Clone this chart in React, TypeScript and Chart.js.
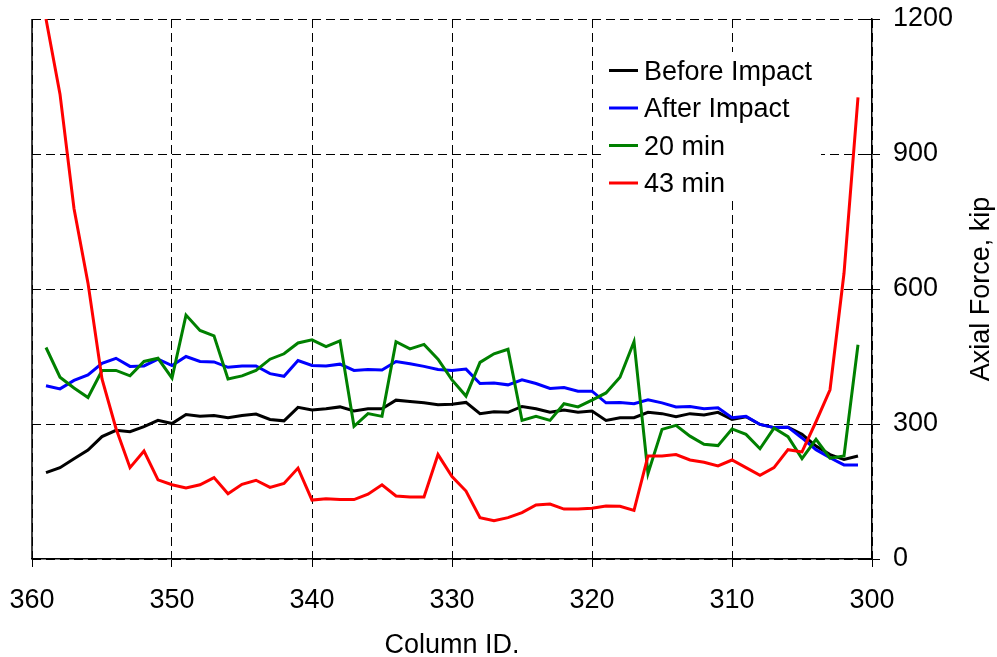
import React, { useEffect, useRef } from "react";
import { Chart, registerables } from "chart.js";

Chart.register(...registerables);

const columnIds = [
  359, 358, 357, 356, 355, 354, 353, 352, 351, 350,
  349, 348, 347, 346, 345, 344, 343, 342, 341, 340,
  339, 338, 337, 336, 335, 334, 333, 332, 331, 330,
  329, 328, 327, 326, 325, 324, 323, 322, 321, 320,
  319, 318, 317, 316, 315, 314, 313, 312, 311, 310,
  309, 308, 307, 306, 305, 304, 303, 302, 301,
];

const beforeImpact = [
  192, 203, 223, 242, 272, 286, 283, 294, 308, 301,
  321, 317, 319, 314, 319, 322, 310, 307, 337, 331,
  334, 338, 329, 334, 334, 353, 350, 347, 343, 344,
  348, 323, 327, 326, 339, 334, 326, 331, 326, 329,
  308, 314, 314, 326, 323, 316, 323, 320, 326, 310,
  316, 299, 292, 293, 277, 251, 232, 221, 229,
];

const afterImpact = [
  385, 378, 397, 409, 435, 446, 428, 429, 444, 430,
  450, 439, 438, 426, 429, 429, 412, 406, 441, 430,
  429, 433, 419, 421, 420, 439, 434, 428, 421, 419,
  422, 390, 391, 387, 398, 390, 379, 381, 373, 373,
  347, 348, 345, 354, 347, 338, 339, 334, 336, 314,
  317, 299, 292, 293, 269, 243, 225, 209, 209,
];

const min20 = [
  470, 404, 380, 359, 419, 419, 407, 439, 446, 402,
  542, 508, 496, 400, 407, 419, 444, 456, 480, 487,
  472, 485, 295, 323, 317, 483, 467, 477, 444, 398,
  362, 437, 456, 466, 308, 317, 308, 345, 338, 353,
  369, 404, 483, 190, 288, 297, 273, 255, 252, 289,
  277, 245, 291, 272, 223, 266, 224, 229, 476,
];

const min43 = [
  1200, 1033, 779, 613, 400, 290, 203, 240, 176, 165,
  158, 165, 181, 145, 166, 175, 159, 168, 202, 131,
  134, 132, 132, 144, 165, 140, 138, 138, 232, 183,
  151, 92, 85, 92, 103, 120, 122, 111, 111, 113,
  118, 117, 108, 229, 229, 232, 220, 215, 207, 220,
  203, 186, 203, 243, 238, 305, 376, 635, 1026,
];

const xTickValues = [360, 350, 340, 330, 320, 310, 300];
const yTickValues = [0, 300, 600, 900, 1200];

const seriesNames = ["Before Impact", "After Impact", "20 min", "43 min"];
const seriesColors = ["#000000", "#0000ff", "#008000", "#ff0000"];
const seriesValues = [beforeImpact, afterImpact, min20, min43];

const xTitle = "Column ID.";
const yTitle = "Axial Force, kip";

const FONT_FAMILY = '"Liberation Sans", Arial, sans-serif';
const FONT_SIZE = 27;

const decorPlugin = {
  id: "decor",
  afterDraw(chart: any) {
    const { ctx, chartArea: a, scales } = chart;
    ctx.save();
    // left frame line
    ctx.strokeStyle = "#000";
    ctx.lineWidth = 1.5;
    ctx.setLineDash([]);
    ctx.beginPath();
    ctx.moveTo(a.left, a.top);
    ctx.lineTo(a.left, a.bottom);
    ctx.stroke();
    // inner tick marks on right axis
    ctx.lineWidth = 1;
    yTickValues.forEach((v) => {
      const y = Math.round(scales.y.getPixelForValue(v)) + 0.5;
      ctx.beginPath();
      ctx.moveTo(a.right - 6, y);
      ctx.lineTo(a.right, y);
      ctx.stroke();
    });

    // legend
    const boxLeft = a.right - 270;
    const boxTop = a.top + 33;
    ctx.fillStyle = "#ffffff";
    ctx.fillRect(boxLeft, boxTop, 219, 149);
    ctx.font = `${FONT_SIZE}px ${FONT_FAMILY}`;
    ctx.textAlign = "left";
    ctx.textBaseline = "alphabetic";
    seriesNames.forEach((name, i) => {
      const baseline = a.top + 60.5 + i * 37.5;
      const lineY = baseline - 9;
      ctx.strokeStyle = seriesColors[i];
      ctx.lineWidth = 3;
      ctx.beginPath();
      ctx.moveTo(boxLeft + 7, lineY);
      ctx.lineTo(boxLeft + 36, lineY);
      ctx.stroke();
      ctx.fillStyle = "#000";
      ctx.fillText(name, boxLeft + 42, baseline);
    });

    // axis titles
    ctx.fillStyle = "#000";
    ctx.textAlign = "center";
    ctx.textBaseline = "alphabetic";
    ctx.fillText(xTitle, (a.left + a.right) / 2, 653);
    ctx.translate(989, (a.top + a.bottom) / 2);
    ctx.rotate(-Math.PI / 2);
    ctx.fillText(yTitle, 0, 0);
    ctx.restore();
  },
};

export default function App() {
  const canvasRef = useRef<HTMLCanvasElement | null>(null);

  useEffect(() => {
    if (!canvasRef.current) return;
    Chart.defaults.font.family = FONT_FAMILY;
    const datasets = seriesNames.map((name, i) => ({
      label: name,
      data: columnIds.map((c, j) => ({ x: c, y: seriesValues[i][j] })),
      borderColor: seriesColors[i],
      backgroundColor: seriesColors[i],
      borderWidth: 3,
      pointRadius: 0,
      tension: 0,
      fill: false,
      order: 3 - i,
    }));

    const chart = new Chart(canvasRef.current, {
      type: "line",
      data: { datasets },
      options: {
        animation: false,
        responsive: false,
        devicePixelRatio: 1,
        layout: { padding: { left: 32, top: 19, right: 0, bottom: 0 } },
        plugins: {
          legend: { display: false },
          tooltip: { enabled: false },
          title: { display: false },
        },
        scales: {
          x: {
            type: "linear",
            position: "bottom",
            reverse: true,
            min: 300,
            max: 360,
            afterBuildTicks: (scale: any) => {
              scale.ticks = xTickValues.map((v) => ({ value: v }));
            },
            afterFit: (scale: any) => {
              scale.height = 98;
              scale.paddingLeft = 0;
              scale.paddingRight = 0;
              scale.paddingTop = 0;
              scale.paddingBottom = 0;
            },
            ticks: {
              color: "#000",
              font: { size: FONT_SIZE, family: FONT_FAMILY },
              padding: 17,
              maxRotation: 0,
              autoSkip: false,
              callback: (v: any) => String(v),
            },
            grid: {
              color: "#000",
              lineWidth: 1,
              drawTicks: true,
              tickLength: 8,
              tickColor: "#000",
              tickBorderDash: [],
            },
            border: { display: true, color: "#000", width: 1.5, dash: [9, 5] },
          },
          y: {
            type: "linear",
            position: "right",
            min: 0,
            max: 1200,
            afterBuildTicks: (scale: any) => {
              scale.ticks = yTickValues.map((v) => ({ value: v }));
            },
            afterFit: (scale: any) => {
              scale.width = 125;
              scale.paddingLeft = 0;
              scale.paddingRight = 0;
              scale.paddingTop = 0;
              scale.paddingBottom = 0;
            },
            ticks: {
              color: "#000",
              font: { size: FONT_SIZE, family: FONT_FAMILY },
              padding: 13,
              callback: (v: any) => String(v),
            },
            grid: {
              color: "#000",
              lineWidth: 1,
              drawTicks: true,
              tickLength: 8,
              tickColor: "#000",
              tickBorderDash: [],
            },
            border: { display: true, color: "#000", width: 1.5, dash: [9, 5] },
          },
        },
      },
      plugins: [decorPlugin],
    } as any);

    return () => chart.destroy();
  }, []);

  return (
    <div style={{ position: "absolute", left: 0, top: 0, width: 997, height: 657, background: "#fff" }}>
      <canvas ref={canvasRef} width={997} height={657} style={{ display: "block", width: 997, height: 657 }} />
    </div>
  );
}
